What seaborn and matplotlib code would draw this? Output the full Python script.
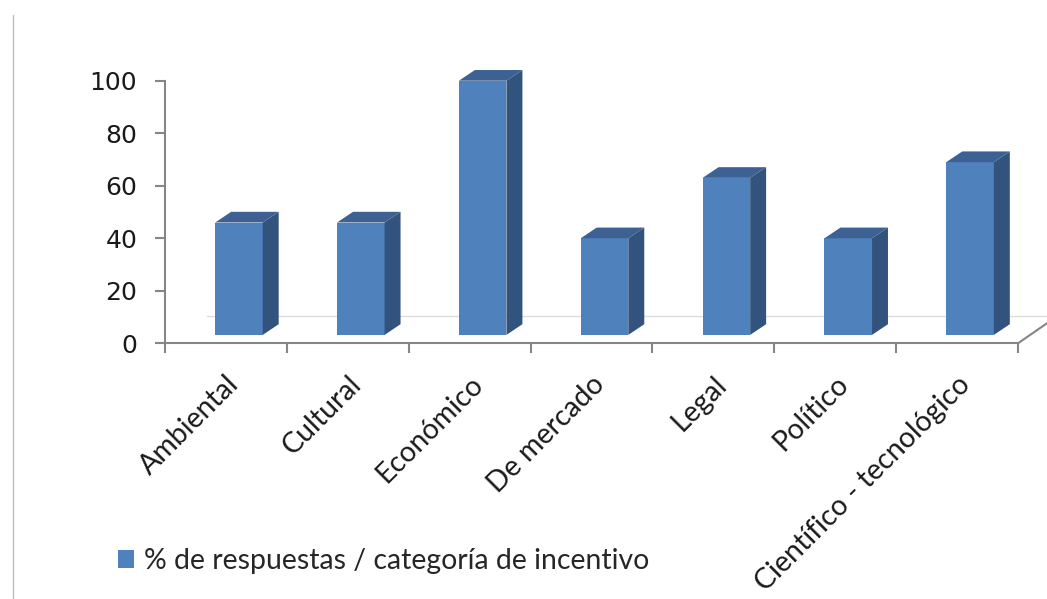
import matplotlib
matplotlib.use("Agg")
import matplotlib.pyplot as plt
from matplotlib.patches import Polygon, Patch
from matplotlib.lines import Line2D
import seaborn as sns
import pandas as pd

# ---- data ----
categories = ["Ambiental", "Cultural", "Económico", "De mercado", "Legal",
              "Político", "Científico - tecnológico"]
values = [46, 46, 100, 40, 63, 40, 69]
series_label = "% de respuestas / categoría de incentivo"
yticks = [0, 20, 40, 60, 80, 100]

FRONT = "#4F81BD"
SIDE = "#32537E"
TOP = "#3C6192"
AXIS = "#868686"

sns.set_theme(style="white")
plt.rcParams["font.family"] = ["DejaVu Sans"]

fig = plt.figure(figsize=(10.47, 5.99), dpi=100)
ax = fig.add_axes([165 / 1047, 1 - 343.3 / 599, (1018 - 165) / 1047, (343.3 - 80.7) / 599])

df = pd.DataFrame({"cat": categories, "val": values})
sns.barplot(data=df, x="cat", y="val", color=FRONT, width=0.39, ax=ax,
            saturation=1, label=series_label, legend=False)

ax.set_xlim(-0.5, len(categories) - 0.5)
ax.set_ylim(0, 100)

# pseudo-3D: floor depth offset, side and top faces
base = 3.2
shift = 0.107
dx, dy = 0.131, 4.07
for p in ax.patches:
    x0 = p.get_x() + shift
    top = p.get_y() + p.get_height()
    p.set_x(x0)
    p.set_y(base)
    p.set_height(top - base)
    p.set_linewidth(0)
    p.set_clip_on(False)
    x1 = x0 + p.get_width()
    side = Polygon([(x1, base), (x1 + dx, base + dy), (x1 + dx, top + dy), (x1, top)],
                   closed=True, facecolor=SIDE, edgecolor="none", clip_on=False, zorder=p.get_zorder())
    cap = Polygon([(x0, top), (x0 + dx, top + dy), (x1 + dx, top + dy), (x1, top)],
                  closed=True, facecolor=TOP, edgecolor="none", clip_on=False, zorder=p.get_zorder())
    ax.add_patch(side)
    ax.add_patch(cap)

# floor back edge and right edge
ax.plot([-0.155, 6.74], [10.4, 10.4], color="#DDDDDD", lw=1, clip_on=False, zorder=0.5)
ax.plot([6.5, 6.74], [0, 7.7], color=AXIS, lw=1.5, clip_on=False, zorder=3)

# spines
for s in ["top", "right"]:
    ax.spines[s].set_visible(False)
for s in ["left", "bottom"]:
    ax.spines[s].set_color(AXIS)
    ax.spines[s].set_linewidth(1.5)

ax.set_yticks(yticks)
ax.set_yticklabels([str(v) for v in yticks], fontsize=18, color="#1A1A1A")
ax.tick_params(axis="y", direction="out", length=7, width=1.5, color=AXIS, pad=13, left=True)

ax.set_xticks(range(len(categories)))
ax.set_xticks([i - 0.5 for i in range(len(categories) + 1)], minor=True)
ax.tick_params(axis="x", which="major", length=0, pad=20)
ax.tick_params(axis="x", which="minor", direction="out", length=7, width=1.5, color=AXIS, bottom=True)
ax.set_xticklabels(categories, rotation=45, ha="right", rotation_mode="anchor",
                   fontsize=20.5, color="#1A1A1A", family=["Lato", "DejaVu Sans"])
ax.set_xlabel("")
ax.set_ylabel("")
ax.grid(False)

# legend
handle = Patch(facecolor=FRONT, edgecolor="none")
fig.legend([handle], [series_label], loc="center left",
           bbox_to_anchor=(118 / 1047, 1 - 561 / 599), frameon=False,
           borderaxespad=0, borderpad=0,
           handlelength=0.55, handleheight=0.55, handletextpad=0.35,
           prop={"family": ["Lato", "DejaVu Sans"], "size": 20.4})

# chart-area left border
fig.add_artist(Line2D([12.5 / 1047, 12.5 / 1047], [0, 1 - 15 / 599], color="#BFBFBF", lw=1))

fig.savefig("out.png", dpi=100)
